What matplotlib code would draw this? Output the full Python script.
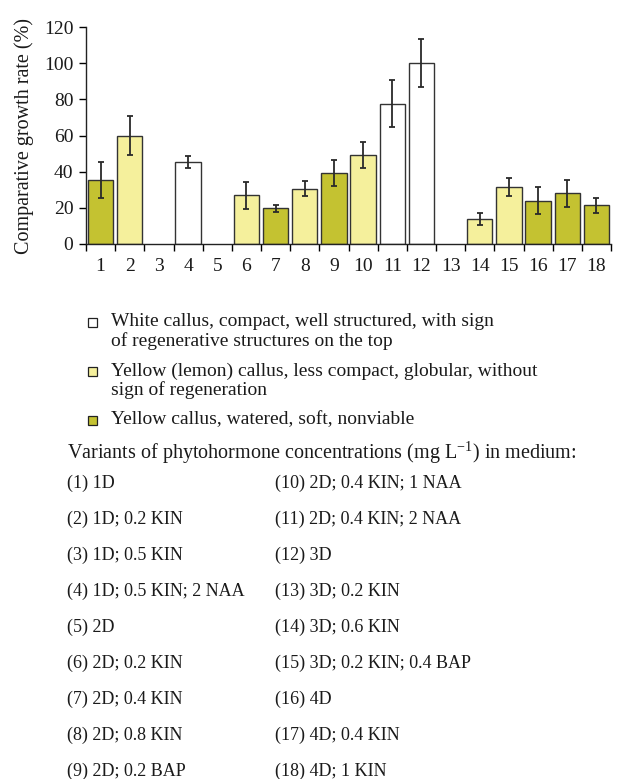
import matplotlib
matplotlib.use("Agg")
import matplotlib.pyplot as plt
from matplotlib.patches import Rectangle

plt.rcParams["font.family"] = ["Liberation Serif", "DejaVu Serif"]
plt.rcParams["mathtext.fontset"] = "custom"
plt.rcParams["mathtext.rm"] = "Liberation Serif"

# =========================================
# DATA
# =========================================
variants = list(range(1, 19))
growth = [35.5, 60, None, 45.3, None, 27, 19.7, 30.5, 39.2, 49.3,
          77.5, 100, None, 14, 31.5, 24, 28, 21.3]
errors = [10, 11, None, 3.5, None, 7.5, 2, 4.2, 7.3, 7,
          13, 13.4, None, 3.3, 5, 7.5, 7.5, 4.4]
callus_type = ["soft", "lemon", None, "white", None, "lemon", "soft", "lemon",
               "soft", "lemon", "white", "white", None, "lemon", "lemon",
               "soft", "soft", "soft"]

type_order = ["white", "lemon", "soft"]
type_colors = {
    "white": "#ffffff",
    "lemon": "#f5f09c",
    "soft": "#c4c231",
}
legend_labels = {
    "white": ["White callus, compact, well structured, with sign",
              "of regenerative structures on the top"],
    "lemon": ["Yellow (lemon) callus, less compact, globular, without",
              "sign of regeneration"],
    "soft": ["Yellow callus, watered, soft, nonviable"],
}

media_title = "Variants of phytohormone concentrations (mg L$^{-1}$) in medium:"
media_left = ["1D", "1D; 0.2 KIN", "1D; 0.5 KIN", "1D; 0.5 KIN; 2 NAA", "2D",
              "2D; 0.2 KIN", "2D; 0.4 KIN", "2D; 0.8 KIN", "2D; 0.2 BAP"]
media_right = ["2D; 0.4 KIN; 1 NAA", "2D; 0.4 KIN; 2 NAA", "3D", "3D; 0.2 KIN",
               "3D; 0.6 KIN", "3D; 0.2 KIN; 0.4 BAP", "4D", "4D; 0.4 KIN",
               "4D; 1 KIN"]

# =========================================
# FIGURE
# =========================================
W, H = 621, 779
TXT = "#1a1a1a"
fig = plt.figure(figsize=(W / 100, H / 100), dpi=100)
ax = fig.add_axes([86 / W, 1 - 244 / H, 525 / W, 217 / H])


def fy(py):
    # pixel row from the top -> figure fraction
    return 1 - py / H


for x, v, e, t in zip(variants, growth, errors, callus_type):
    if v is None:
        continue
    ax.bar(x, v, width=0.87, color=type_colors[t],
           edgecolor="#333333", linewidth=1.0, zorder=2)
    ax.errorbar(x, v, yerr=e, fmt="none", ecolor="#2a2a2a",
                elinewidth=1.3, capsize=2.4, capthick=1.3, zorder=3)

ax.set_xlim(0.5, 18.5)
ax.set_ylim(0, 120)
ax.set_yticks(range(0, 121, 20))
ax.set_xticks(variants)
ax.set_xticklabels([str(v) for v in variants])
ax.set_xticks([v + 0.5 for v in range(0, 19)], minor=True)
ax.tick_params(axis="x", which="major", length=0, labelsize=14, pad=10,
               labelcolor=TXT)
ax.tick_params(axis="x", which="minor", length=5, width=1, direction="out")
ax.tick_params(axis="y", length=5, width=1, direction="out", labelsize=14,
               pad=4, labelcolor=TXT)
ax.spines["top"].set_visible(False)
ax.spines["right"].set_visible(False)
for s in ["left", "bottom"]:
    ax.spines[s].set_color("#222222")
    ax.spines[s].set_linewidth(1.0)

ax.set_ylabel("Comparative growth rate (%)", fontsize=14.5, labelpad=7,
              color=TXT)

# =========================================
# LEGEND (square aligned with first line)
# =========================================
row = 322
for k in type_order:
    fig.add_artist(Rectangle((88 / W, fy(row + 5)), 9 / W, 9 / H,
                             transform=fig.transFigure,
                             facecolor=type_colors[k], edgecolor="#222222",
                             linewidth=0.9))
    for j, line in enumerate(legend_labels[k]):
        fig.text(111 / W, fy(row + 19 * j), line, fontsize=14,
                 va="center", ha="left", color=TXT)
    row += 19 * len(legend_labels[k]) + 11

# =========================================
# MEDIUM LIST
# =========================================
fig.text(67 / W, fy(453), media_title, fontsize=14.5, va="center",
         ha="left", color=TXT)

for i, m in enumerate(media_left):
    fig.text(67 / W, fy(483 + 36 * i), f"({i + 1}) {m}",
             fontsize=13, va="center", ha="left", color=TXT)
for i, m in enumerate(media_right):
    fig.text(275 / W, fy(483 + 36 * i), f"({i + 10}) {m}",
             fontsize=13, va="center", ha="left", color=TXT)

fig.savefig("out.png", dpi=100)
